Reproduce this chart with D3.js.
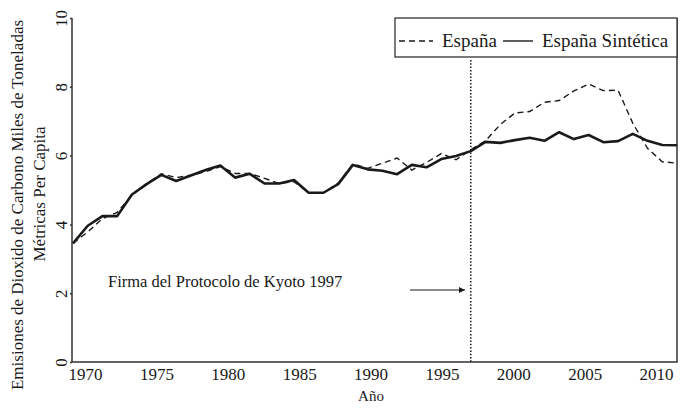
<!DOCTYPE html>
<html>
<head>
  <meta charset="utf-8" />
  <title>Emisiones de CO2 - España vs España Sintética</title>
  <script src="https://d3js.org/d3.v7.min.js"></script>
  <style>
    body { margin: 0; background: #fff; }
    svg text { font-family: "Liberation Serif", "DejaVu Serif", serif; fill: #1a1a1a; }
  </style>
</head>
<body>
  <svg id="chart" width="690" height="410"></svg>
  <script>
    // data
    var years = d3.range(1970, 2012);
    var spain = [3.45, 3.78, 4.17, 4.35, 4.85, 5.19, 5.47, 5.36, 5.43, 5.53,
                 5.68, 5.48, 5.48, 5.34, 5.19, 5.24, 4.92, 4.92, 5.20, 5.76,
                 5.63, 5.78, 5.93, 5.58, 5.80, 6.06, 5.88, 6.17, 6.43, 6.90,
                 7.24, 7.28, 7.55, 7.60, 7.88, 8.08, 7.89, 7.90, 6.94, 6.21,
                 5.82, 5.78];
    var synthetic = [3.45, 3.96, 4.24, 4.24, 4.87, 5.17, 5.44, 5.26, 5.42, 5.58,
                     5.71, 5.36, 5.47, 5.19, 5.19, 5.29, 4.92, 4.92, 5.17, 5.73,
                     5.60, 5.56, 5.46, 5.73, 5.66, 5.90, 5.99, 6.13, 6.40, 6.37,
                     6.45, 6.52, 6.43, 6.68, 6.48, 6.60, 6.39, 6.42, 6.63, 6.43,
                     6.31, 6.30];
    var xTickYears = [1970, 1975, 1980, 1985, 1990, 1995, 2000, 2005, 2010];
    var yTicks = [0, 2, 4, 6, 8, 10];
    var kyotoYear = 1997;

    var svg = d3.select("#chart");
    var pLeft = 72, pRight = 677, pTop = 18, pBottom = 362;

    var x = d3.scaleLinear().domain([1970, 2011]).range([73, pRight]);
    // the tick labels of the original sit a little off the data positions
    var xLab = d3.scaleLinear().domain([1970, 2010]).range([85, 656]);
    var y = d3.scaleLinear().domain([0, 10]).range([pBottom, pTop]);

    // frame: left, bottom, right (no top line)
    svg.append("path")
      .attr("d", "M" + pLeft + "," + pTop + "V" + pBottom + "H" + pRight + "V" + pTop)
      .attr("fill", "none")
      .attr("stroke", "#333")
      .attr("stroke-width", 1.5);

    // y axis
    var yAxis = svg.append("g")
      .attr("transform", "translate(" + pLeft + ",0)")
      .call(d3.axisLeft(y).tickValues(yTicks).tickSize(2).tickPadding(4));
    yAxis.select(".domain").remove();
    yAxis.selectAll("line").attr("stroke", "#333").attr("stroke-width", 1.5);
    yAxis.selectAll("text")
      .attr("transform", "rotate(-90)")
      .attr("x", 0)
      .attr("y", -5)
      .attr("dy", 0)
      .attr("text-anchor", "middle")
      .style("font-size", "17px")
      .style("font-family", "Liberation Serif, serif");

    // x axis labels
    var xAxis = svg.append("g")
      .attr("transform", "translate(0," + pBottom + ")")
      .call(d3.axisBottom(xLab).tickValues(xTickYears).tickFormat(d3.format("d")).tickSize(0).tickPadding(6));
    xAxis.select(".domain").remove();
    xAxis.selectAll("text")
      .style("font-size", "17px")
      .style("font-family", "Liberation Serif, serif");

    // axis titles
    svg.append("text")
      .attr("transform", "translate(23,205) rotate(-90)")
      .attr("text-anchor", "middle")
      .style("font-size", "17px")
      .text("Emisiones de Dioxido de Carbono Miles de Toneladas");
    svg.append("text")
      .attr("transform", "translate(45,194) rotate(-90)")
      .attr("text-anchor", "middle")
      .style("font-size", "17px")
      .text("Métricas Per Capita");
    svg.append("text")
      .attr("x", 371)
      .attr("y", 401)
      .attr("text-anchor", "middle")
      .style("font-size", "15px")
      .text("Año");

    // Kyoto line
    svg.append("line")
      .attr("x1", x(kyotoYear)).attr("x2", x(kyotoYear))
      .attr("y1", 60).attr("y2", pBottom)
      .attr("stroke", "#222")
      .attr("stroke-width", 1.6)
      .attr("stroke-dasharray", "1.5,1.8");

    var line = d3.line()
      .x(function (d, i) { return x(years[i]); })
      .y(function (d) { return y(d); });

    svg.append("path")
      .datum(spain)
      .attr("d", line)
      .attr("fill", "none")
      .attr("stroke", "#1a1a1a")
      .attr("stroke-width", 1.4)
      .attr("stroke-dasharray", "6,4");

    svg.append("path")
      .datum(synthetic)
      .attr("d", line)
      .attr("fill", "none")
      .attr("stroke", "#1a1a1a")
      .attr("stroke-width", 2.6)
      .attr("stroke-linejoin", "round");

    // annotation
    svg.append("text")
      .attr("x", 108)
      .attr("y", 287)
      .style("font-size", "16.5px")
      .text("Firma del Protocolo de Kyoto 1997");

    svg.append("defs").append("marker")
      .attr("id", "arrow")
      .attr("viewBox", "0 0 10 10")
      .attr("refX", 10).attr("refY", 5)
      .attr("markerWidth", 10).attr("markerHeight", 6)
      .attr("markerUnits", "userSpaceOnUse")
      .attr("orient", "auto")
      .append("path")
      .attr("d", "M0,0L10,5L0,10Z")
      .attr("fill", "#1a1a1a");
    svg.append("line")
      .attr("x1", 410).attr("x2", 465)
      .attr("y1", 290).attr("y2", 290)
      .attr("stroke", "#1a1a1a")
      .attr("stroke-width", 1.2)
      .attr("marker-end", "url(#arrow)");

    // legend
    var lg = svg.append("g");
    lg.append("rect")
      .attr("x", 395).attr("y", pTop)
      .attr("width", pRight - 395).attr("height", 39)
      .attr("fill", "#fff")
      .attr("stroke", "#333")
      .attr("stroke-width", 1.3);
    lg.append("line")
      .attr("x1", 399).attr("x2", 433).attr("y1", 41).attr("y2", 41)
      .attr("stroke", "#1a1a1a").attr("stroke-width", 1.4)
      .attr("stroke-dasharray", "6,4");
    lg.append("text")
      .attr("x", 442).attr("y", 47)
      .style("font-size", "19px")
      .text("España");
    lg.append("line")
      .attr("x1", 503).attr("x2", 533).attr("y1", 41).attr("y2", 41)
      .attr("stroke", "#1a1a1a").attr("stroke-width", 1.4);
    lg.append("text")
      .attr("x", 542).attr("y", 47)
      .style("font-size", "19px")
      .text("España Sintética");
  </script>
</body>
</html>
